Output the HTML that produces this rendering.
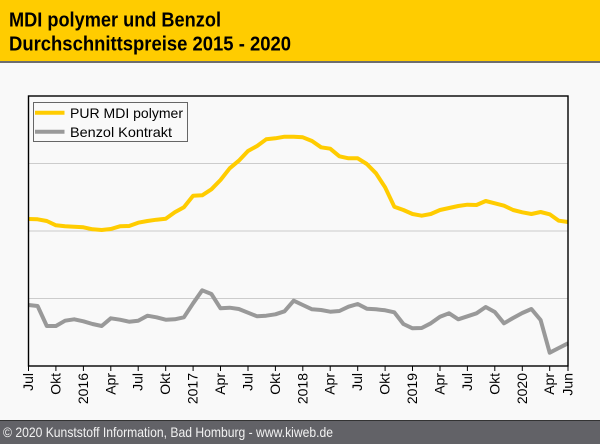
<!DOCTYPE html>
<html>
<head>
<meta charset="utf-8">
<style>
  html,body{margin:0;padding:0;background:#f9f9f9;}
  svg{display:block;}
  text{font-family:"Liberation Sans",Arial,sans-serif;}
</style>
</head>
<body>
<svg width="600" height="444" viewBox="0 0 600 444" xmlns="http://www.w3.org/2000/svg">
  <rect x="0" y="0" width="600" height="444" fill="#f9f9f9"/>
  <!-- header -->
  <rect x="0" y="0" width="600" height="61" fill="#ffcc00"/>
  <rect x="0" y="61" width="600" height="2" fill="#6e6e6e"/>
  <text x="9" y="26.5" font-size="20" font-weight="bold" fill="#000" textLength="212" lengthAdjust="spacingAndGlyphs">MDI polymer und Benzol</text>
  <text x="9" y="50.5" font-size="20" font-weight="bold" fill="#000" textLength="282" lengthAdjust="spacingAndGlyphs">Durchschnittspreise 2015 - 2020</text>

  <!-- gridlines -->
  <g stroke="#cccccc" stroke-width="1">
    <line x1="28.5" y1="163.5" x2="568" y2="163.5"/>
    <line x1="28.5" y1="231" x2="568" y2="231"/>
    <line x1="28.5" y1="298.5" x2="568" y2="298.5"/>
  </g>

  <!-- series -->
  <polyline fill="none" stroke="#ffcc00" stroke-width="4" stroke-linejoin="round" points="28.5,219 37.6,219.3 46.8,221 55.9,225.3 65.1,226.3 74.2,226.7 83.4,227.3 92.5,229.3 101.7,230 110.8,229 119.9,226.3 129.1,226 138.2,222.7 147.4,221 156.5,219.7 165.7,218.7 174.8,212.3 183.9,207.3 193.1,195.7 202.2,195.3 211.4,189.3 220.5,180 229.7,168.3 238.8,160.7 248,151 257.1,146 266.2,139.3 275.4,138.3 284.5,136.7 293.7,136.7 302.8,137.3 312,141 321.1,147.3 330.2,148.7 339.4,156.3 348.5,158.3 357.7,158.3 366.8,164 376,173.3 385.1,187.3 394.3,206.7 403.4,210 412.5,214 421.7,215.7 430.8,214 440,210 449.1,208 458.3,206 467.4,204.7 476.5,205 485.7,201 494.8,203.3 504,205.7 513.1,210 522.3,212.3 531.4,214 540.6,212 549.7,214.3 558.8,220.7 568,222"/>
  <polyline fill="none" stroke="#999999" stroke-width="4" stroke-linejoin="round" points="28.5,305 37.6,306 46.8,326 55.9,326 65.1,320.7 74.2,319.3 83.4,321.3 92.5,324 101.7,326 110.8,318.3 119.9,319.7 129.1,321.7 138.2,320.7 147.4,315.7 156.5,317.3 165.7,319.7 174.8,319.3 183.9,317.3 193.1,303.3 202.2,290.3 211.4,294 220.5,308.3 229.7,307.7 238.8,309 248,312.7 257.1,316.3 266.2,315.7 275.4,314.3 284.5,311.3 293.7,300.7 302.8,305 312,309.3 321.1,310 330.2,311.7 339.4,311 348.5,306.7 357.7,304 366.8,308.7 376,309.3 385.1,310.3 394.3,312.3 403.4,324 412.5,328.3 421.7,328 430.8,323.3 440,316.7 449.1,313.3 458.3,319.3 467.4,316.3 476.5,313.3 485.7,307 494.8,312 504,323.3 513.1,318 522.3,313 531.4,309 540.6,320 549.7,352.7 558.8,348 568,343.3"/>

  <!-- frame -->
  <rect x="28.5" y="96" width="539.5" height="270" fill="none" stroke="#000" stroke-width="1.4"/>

  <!-- legend -->
  <rect x="33.5" y="102.5" width="154" height="39" fill="#f9f9f9" stroke="#666" stroke-width="1"/>
  <line x1="35" y1="112.7" x2="64.5" y2="112.7" stroke="#ffcc00" stroke-width="4"/>
  <line x1="35" y1="131.7" x2="64.5" y2="131.7" stroke="#999999" stroke-width="4"/>
  <text x="70" y="118" font-size="14" fill="#000" textLength="113" lengthAdjust="spacingAndGlyphs">PUR MDI polymer</text>
  <text x="70" y="137" font-size="14" fill="#000" textLength="102" lengthAdjust="spacingAndGlyphs">Benzol Kontrakt</text>

  <!-- ticks -->
  <g stroke="#000" stroke-width="1">
    <line x1="28.5" y1="366" x2="28.5" y2="371"/>
    <line x1="55.9" y1="366" x2="55.9" y2="371"/>
    <line x1="83.4" y1="366" x2="83.4" y2="371"/>
    <line x1="110.8" y1="366" x2="110.8" y2="371"/>
    <line x1="138.2" y1="366" x2="138.2" y2="371"/>
    <line x1="165.7" y1="366" x2="165.7" y2="371"/>
    <line x1="193.1" y1="366" x2="193.1" y2="371"/>
    <line x1="220.5" y1="366" x2="220.5" y2="371"/>
    <line x1="248" y1="366" x2="248" y2="371"/>
    <line x1="275.4" y1="366" x2="275.4" y2="371"/>
    <line x1="302.8" y1="366" x2="302.8" y2="371"/>
    <line x1="330.2" y1="366" x2="330.2" y2="371"/>
    <line x1="357.7" y1="366" x2="357.7" y2="371"/>
    <line x1="385.1" y1="366" x2="385.1" y2="371"/>
    <line x1="412.5" y1="366" x2="412.5" y2="371"/>
    <line x1="440" y1="366" x2="440" y2="371"/>
    <line x1="467.4" y1="366" x2="467.4" y2="371"/>
    <line x1="494.8" y1="366" x2="494.8" y2="371"/>
    <line x1="522.3" y1="366" x2="522.3" y2="371"/>
    <line x1="549.7" y1="366" x2="549.7" y2="371"/>
    <line x1="568" y1="366" x2="568" y2="371"/>
  </g>

  <!-- tick labels -->
  <g font-size="14" fill="#000" text-anchor="end">
    <text transform="translate(33,373) rotate(-90)">Jul</text>
    <text transform="translate(60.4,373) rotate(-90)">Okt</text>
    <text transform="translate(87.9,373) rotate(-90)">2016</text>
    <text transform="translate(115.3,373) rotate(-90)">Apr</text>
    <text transform="translate(142.7,373) rotate(-90)">Jul</text>
    <text transform="translate(170.2,373) rotate(-90)">Okt</text>
    <text transform="translate(197.6,373) rotate(-90)">2017</text>
    <text transform="translate(225,373) rotate(-90)">Apr</text>
    <text transform="translate(252.5,373) rotate(-90)">Jul</text>
    <text transform="translate(279.9,373) rotate(-90)">Okt</text>
    <text transform="translate(307.3,373) rotate(-90)">2018</text>
    <text transform="translate(334.7,373) rotate(-90)">Apr</text>
    <text transform="translate(362.2,373) rotate(-90)">Jul</text>
    <text transform="translate(389.6,373) rotate(-90)">Okt</text>
    <text transform="translate(417,373) rotate(-90)">2019</text>
    <text transform="translate(444.5,373) rotate(-90)">Apr</text>
    <text transform="translate(471.9,373) rotate(-90)">Jul</text>
    <text transform="translate(499.3,373) rotate(-90)">Okt</text>
    <text transform="translate(526.8,373) rotate(-90)">2020</text>
    <text transform="translate(554.2,373) rotate(-90)">Apr</text>
    <text transform="translate(572.5,373) rotate(-90)">Jun</text>
  </g>

  <!-- footer -->
  <rect x="0" y="420" width="600" height="24" fill="#626267"/>
  <rect x="0" y="420" width="600" height="1" fill="#333"/>
  <text x="3" y="437" font-size="14" fill="#f2f2f2" textLength="330" lengthAdjust="spacingAndGlyphs">© 2020 Kunststoff Information, Bad Homburg - www.kiweb.de</text>
</svg>
</body>
</html>
